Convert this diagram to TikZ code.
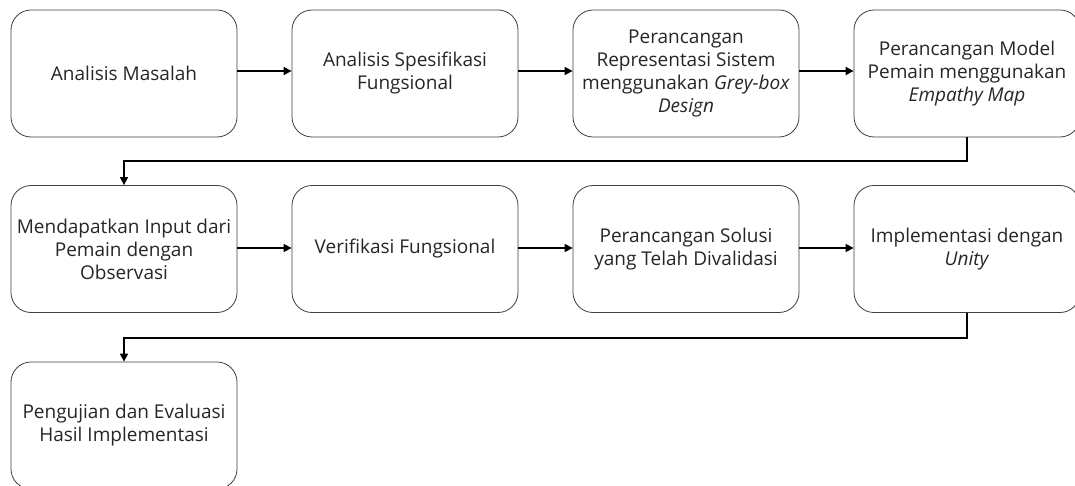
\documentclass[tikz,border=0pt]{standalone}
\usepackage{fontspec}
\setmainfont{Open Sans}
\usetikzlibrary{arrows.meta}
\begin{document}
\begin{tikzpicture}[x=1pt,y=-1pt,
  box/.style={draw=black!75, line width=0.8pt, rounded corners=20pt, minimum width=226pt, minimum height=127pt, align=center, inner sep=0pt, font=\fontsize{19}{23}\selectfont, text=black!85},
  conn/.style={line width=1.6pt, -{Triangle[length=8pt,width=8pt]}}]
\clip (0,0) rectangle (1075,486);
\fill[white] (0,0) rectangle (1075,486);
\node[box] (b1) at (124,73.5) {Analisis Masalah};
\node[box] (b2) at (405,73.5) {Analisis Spesifikasi\\Fungsional};
\node[box] (b3) at (686,73.5) {Perancangan\\Representasi Sistem\\menggunakan \textit{Grey-box}\\\textit{Design}};
\node[box] (b4) at (967,73.5) {Perancangan Model\\Pemain menggunakan\\\textit{Empathy Map}};
\node[box] (b5) at (124,249) {Mendapatkan Input dari\\Pemain dengan\\Observasi};
\node[box] (b6) at (405,249) {Verifikasi Fungsional};
\node[box] (b7) at (686,249) {Perancangan Solusi\\yang Telah Divalidasi};
\node[box] (b8) at (967,249) {Implementasi dengan\\\textit{Unity}};
\node[box] (b9) at (124,425.5) {Pengujian dan Evaluasi\\Hasil Implementasi};
\draw[conn] (b1.east |- 0,71) -- (b2.west |- 0,71);
\draw[conn] (b2.east |- 0,71) -- (b3.west |- 0,71);
\draw[conn] (b3.east |- 0,71) -- (b4.west |- 0,71);
\draw[conn] (b5.east |- 0,248) -- (b6.west |- 0,248);
\draw[conn] (b6.east |- 0,248) -- (b7.west |- 0,248);
\draw[conn] (b7.east |- 0,248) -- (b8.west |- 0,248);
\coordinate (c1) at (967,161);
\coordinate (c2) at (124,161);
\draw[conn] (b4.south) -- (c1) -- (c2) -- (b5.north);
\coordinate (c3) at (967,338);
\coordinate (c4) at (124,338);
\draw[conn] (b8.south) -- (c3) -- (c4) -- (b9.north);
\end{tikzpicture}
\end{document}
